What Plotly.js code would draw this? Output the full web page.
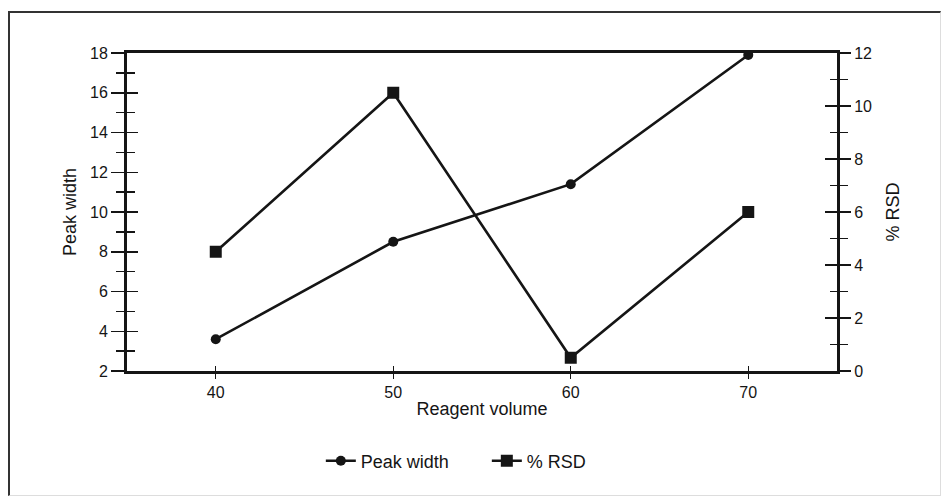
<!DOCTYPE html>
<html>
<head>
<meta charset="utf-8">
<script src="https://cdn.plot.ly/plotly-3.0.1.min.js"></script>
<style>
  html, body { margin: 0; padding: 0; background: #fff; }
  #wrap { position: relative; width: 944px; height: 496px; overflow: hidden; }
  #frame { position: absolute; left: 8px; top: 11px; width: 930px; height: 482px;
           border-left: 2px solid #333; border-top: 2px solid #333;
           border-right: 1px solid #ddd; border-bottom: 1px solid #ddd; pointer-events: none; }
  #chart { position: absolute; left: 0; top: 0; width: 944px; height: 496px; }
</style>
</head>
<body>
<div id="wrap">
  <div id="chart"></div>
  <div id="frame"></div>
</div>
<script>
// Reagent volume study: peak width (left axis) and % RSD (right axis)
const reagentVolume = [40, 50, 60, 70];
const peakWidth = [3.6, 8.5, 11.4, 17.9];
const rsdPercent = [4.5, 10.5, 0.5, 6.0];
const xTicks = [40, 50, 60, 70];

const ink = '#151515';
const family = 'Liberation Sans, Arial, sans-serif';
const tickFont = { family: family, size: 16, color: ink };
const titleFont = { family: family, size: 18, color: ink };

const traces = [
  {
    x: reagentVolume, y: peakWidth, name: 'Peak width', yaxis: 'y',
    mode: 'lines+markers', type: 'scatter',
    line: { color: ink, width: 2.6 },
    marker: { symbol: 'circle', size: 10, color: ink }
  },
  {
    x: reagentVolume, y: rsdPercent, name: '% RSD', yaxis: 'y2',
    mode: 'lines+markers', type: 'scatter',
    line: { color: ink, width: 2.6 },
    marker: { symbol: 'square', size: 12, color: ink }
  }
];

const layout = {
  width: 944, height: 496,
  margin: { l: 127, r: 107, t: 53, b: 125 },
  paper_bgcolor: 'rgba(0,0,0,0)', plot_bgcolor: '#fff',
  font: tickFont,
  showlegend: true,
  legend: {
    orientation: 'h', x: 0.273, xanchor: 'left', y: -0.283, yanchor: 'middle',
    font: titleFont, traceorder: 'normal',
    entrywidth: 121, entrywidthmode: 'pixels'
  },
  xaxis: {
    range: [35, 75], tickvals: xTicks, ticktext: xTicks.map(String),
    showline: true, linecolor: ink, linewidth: 3, mirror: true,
    ticks: 'outside', ticklen: 5, tickwidth: 1.2, tickcolor: ink,
    tickfont: tickFont,
    showgrid: false, zeroline: false,
    title: { text: 'Reagent volume', font: titleFont, standoff: 3 }
  },
  yaxis: {
    range: [2, 18], dtick: 2, tick0: 2,
    showline: true, linecolor: ink, linewidth: 3,
    ticks: 'outside', ticklen: 13, tickwidth: 1.5, tickcolor: ink,
    minor: { dtick: 1, ticks: 'outside', ticklen: 8, tickwidth: 1.3, tickcolor: ink },
    tickfont: tickFont,
    showgrid: false, zeroline: false,
    title: { text: 'Peak width', font: titleFont, standoff: 9 }
  },
  yaxis2: {
    range: [0, 12], dtick: 2, tick0: 0, overlaying: 'y', side: 'right',
    showline: true, linecolor: ink, linewidth: 3,
    ticks: 'outside', ticklen: 11, tickwidth: 1.5, tickcolor: ink,
    minor: { dtick: 1, ticks: 'outside', ticklen: 8, tickwidth: 1.3, tickcolor: ink },
    tickfont: tickFont,
    showgrid: false, zeroline: false,
    title: { text: '% RSD', font: titleFont, standoff: 16 }
  },
  // inner halves of the crossing tick marks
  yaxis3: {
    range: [2, 18], dtick: 2, tick0: 2, overlaying: 'y', side: 'left',
    showline: false, showticklabels: false, showgrid: false, zeroline: false,
    ticks: 'inside', ticklen: 11, tickwidth: 1.5, tickcolor: ink,
    minor: { dtick: 1, ticks: 'inside', ticklen: 8, tickwidth: 1.3, tickcolor: ink }
  },
  yaxis4: {
    range: [0, 12], dtick: 2, tick0: 0, overlaying: 'y', side: 'right',
    showline: false, showticklabels: false, showgrid: false, zeroline: false,
    ticks: 'inside', ticklen: 12, tickwidth: 1.5, tickcolor: ink,
    minor: { dtick: 1, ticks: 'inside', ticklen: 7, tickwidth: 1.3, tickcolor: ink }
  },
  xaxis2: {
    range: [35, 75], tickvals: xTicks, overlaying: 'x', side: 'bottom',
    showline: false, showticklabels: false, showgrid: false, zeroline: false,
    ticks: 'inside', ticklen: 5, tickwidth: 1.2, tickcolor: ink
  }
};

// invisible traces anchoring the tick-only overlay axes
traces.push({ x: [null], y: [null], xaxis: 'x2', yaxis: 'y3', showlegend: false, hoverinfo: 'skip', mode: 'markers' });
traces.push({ x: [null], y: [null], xaxis: 'x2', yaxis: 'y4', showlegend: false, hoverinfo: 'skip', mode: 'markers' });

Plotly.newPlot('chart', traces, layout, { displayModeBar: false, staticPlot: true });
</script>
</body>
</html>
